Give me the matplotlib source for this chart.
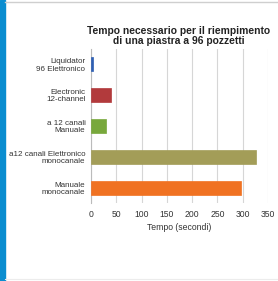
import matplotlib
matplotlib.use("Agg")
import matplotlib.pyplot as plt
from matplotlib.patches import Rectangle
from matplotlib.lines import Line2D

plt.rcParams['font.family'] = ['Liberation Sans', 'DejaVu Sans']

labels = ["Liquidator\n96 Elettronico", "Electronic\n12-channel", "a 12 canali\nManuale",
          "a12 canali Elettronico\nmonocanale", "Manuale\nmonocanale"]
tempi = [3, 40, 30, 326, 297]
colori = ["#2f5fb3", "#b23a3c", "#78a83c", "#a39d58", "#f07222"]
ticks = [0, 50, 100, 150, 200, 250, 300, 350]

W, H = 278, 281
fig = plt.figure(figsize=(W / 100, H / 100), dpi=100)
fig.patch.set_facecolor("white")

# blue strip and border lines of the page
fig.patches.append(Rectangle((0, 0), 4.5 / W, 1, transform=fig.transFigure, color="#0a8dd0"))
fig.lines.append(Line2D([4.5 / W, 1], [1 - 2 / H, 1 - 2 / H], transform=fig.transFigure, color="#cfcfcf", lw=1))
fig.lines.append(Line2D([4.5 / W, 1], [2 / H, 2 / H], transform=fig.transFigure, color="#ececec", lw=0.8))

left, right, top, bottom = 91, 268, 49, 203
ax = fig.add_axes([left / W, 1 - bottom / H, (right - left) / W, (bottom - top) / H])

y = list(range(len(labels)))
ax.barh(y, tempi, height=0.45, color=colori, edgecolor=colori, linewidth=0.5, zorder=3)
ax.set_ylim(len(labels) - 0.5, -0.5)
ax.set_xlim(0, 350)
ax.set_xticks(ticks)
ax.set_xticklabels([str(t) for t in ticks], fontsize=6.2, color="#333333")
ax.set_yticks(y)
ax.set_yticklabels(labels, fontsize=5.8, color="#333333", linespacing=1.05)
ax.tick_params(axis="x", length=0, pad=5)
ax.tick_params(axis="y", length=0, pad=4)
ax.grid(axis="x", color="#d6d6d6", lw=0.8, zorder=0)
for s in ["top", "right", "bottom"]:
    ax.spines[s].set_visible(False)
ax.spines["left"].set_color("#bbbbbb")
ax.spines["left"].set_linewidth(0.8)
ax.set_xlabel("Tempo (secondi)", fontsize=6.2, color="#333333", labelpad=3)

fig.text(179 / W, 1 - 36 / H, "Tempo necessario per il riempimento\ndi una piastra a 96 pozzetti",
         ha="center", va="center", fontsize=7.4, fontweight="bold", color="#222222", linespacing=1.0)

fig.savefig("out.png", dpi=100)
